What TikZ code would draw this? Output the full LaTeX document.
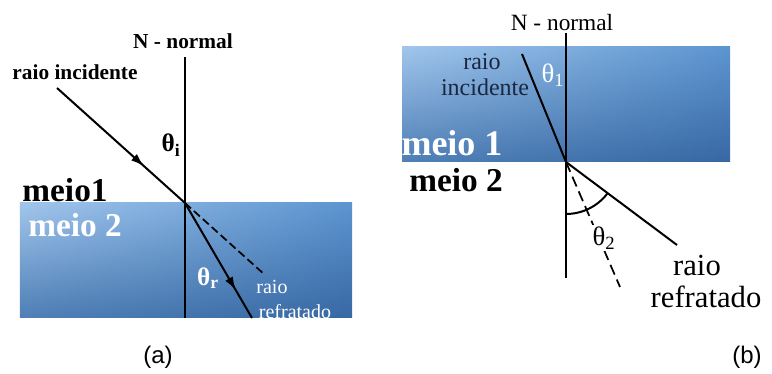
\documentclass[tikz,border=0pt]{standalone}
\usepackage{fontspec}
\setmainfont{Liberation Serif}
\newfontfamily\capfont{Liberation Sans}
\usetikzlibrary{arrows.meta,decorations.markings,fadings}
\definecolor{waterlight}{HTML}{5C95D0}
\definecolor{waterdark}{HTML}{3868A3}
\definecolor{waterpale}{HTML}{A2C6EC}
\definecolor{waterpaledark}{HTML}{4E7FB6}
\definecolor{inktext}{HTML}{1B2740}
\newcommand{\fsz}[1]{\fontsize{#1}{#1}\selectfont}

\begin{document}
\begin{tikzpicture}[x=0.75pt,y=-0.75pt,
    arrowmid/.style={postaction={decorate},decoration={markings,
      mark=at position #1 with {\arrow{Latex[length=10pt,width=6.5pt]}}}}]
      \tikzstyle{ray}=[draw,line width=1.5pt]
      \tikzstyle{normalline}=[draw,line width=1.2pt]
      \tikzstyle{water}=[top color=waterlight,bottom color=waterdark]
      \tikzstyle{waterleft}=[top color=waterpale,bottom color=waterpaledark,path fading=east]
      \useasboundingbox (0,0) rectangle (772,374);
      % (a)
      \shade[water] (20,203) rectangle (352,318);
      \shade[waterleft] (20,203) rectangle (352,318);
      \coordinate (Oa) at (185,203);
      \coordinate (Na) at (185,57);
      \coordinate (Sa) at (185,318);
      \coordinate (Ia) at (57,88);
      \coordinate (Ra) at (252,318);
      \coordinate (Da) at (265,275);
      \path[normalline] (Na) -- (Sa);
      \path[ray,arrowmid=0.68] (Ia) -- (Oa);
      \path[ray,arrowmid=0.76] (Oa) -- (Ra);
      \path[draw,line width=1.3pt,dash pattern=on 6pt off 3pt] (Oa) -- (Da);
      \node[font=\bfseries\fsz{16}] (normA) at (183,41) {N - normal};
      \node[font=\bfseries\fsz{16}] (incA) at (75,72) {raio incidente};
      \node[font=\bfseries\fsz{19}] (thi) at (171,145) {θ\textsubscript{i}};
      \node[font=\bfseries\fsz{25}] (m1a) at (65,190) {meio1};
      \node[white,font=\bfseries\fsz{25}] (m2a) at (75,225) {meio 2};
      \node[white,font=\bfseries\fsz{19}] (thr) at (208,278) {θ\textsubscript{r}};
      \node[white,font=\fsz{15}] (raioA) at (272,287) {raio};
      \node[white,font=\fsz{15}] (refA) at (295,312) {refratado};
      \node[font=\capfont\fsz{18}] (capA) at (158,357) {(a)};
      % (b)
      \shade[water] (402,47) rectangle (730,162);
      \shade[waterleft] (402,47) rectangle (730,162);
      \coordinate (Ob) at (566,162);
      \coordinate (Nb) at (566,33);
      \coordinate (Sb) at (566,278);
      \coordinate (Ib) at (522,54);
      \coordinate (Rb) at (677,245);
      \coordinate (Db) at (620,287);
      \path[normalline] (Nb) -- (Sb);
      \path[ray] (Ib) -- (Ob) -- (Rb);
      \path[draw,line width=1.3pt,dash pattern=on 8pt off 4pt] (Ob) -- (Db);
      \path[draw,line width=1.5pt] (Ob) ++(-90:39pt) arc[start angle=-90,end angle=-37,radius=39pt];
      \node[font=\fsz{17.5}] (normB) at (562,23) {N - normal};
      \node[inktext,font=\fsz{18}] (raioIB) at (482,62) {raio};
      \node[inktext,font=\fsz{18}] (incB) at (485,87) {incidente};
      \node[white,font=\fsz{20}] (th1) at (553,75) {θ\textsubscript{1}};
      \node[white,font=\bfseries\fsz{27}] (m1b) at (452,143) {meio 1};
      \node[font=\bfseries\fsz{25}] (m2b) at (456,180) {meio 2};
      \node[fill=white,inner sep=1pt,font=\fsz{20}] (th2) at (604,238) {θ\textsubscript{2}};
      \node[font=\fsz{23}] (raioB) at (697,265) {raio};
      \node[font=\fsz{23}] (refB) at (706,297) {refratado};
      \node[font=\capfont\fsz{18}] (capB) at (747,357) {(b)};
    \end{tikzpicture}
\end{document}
